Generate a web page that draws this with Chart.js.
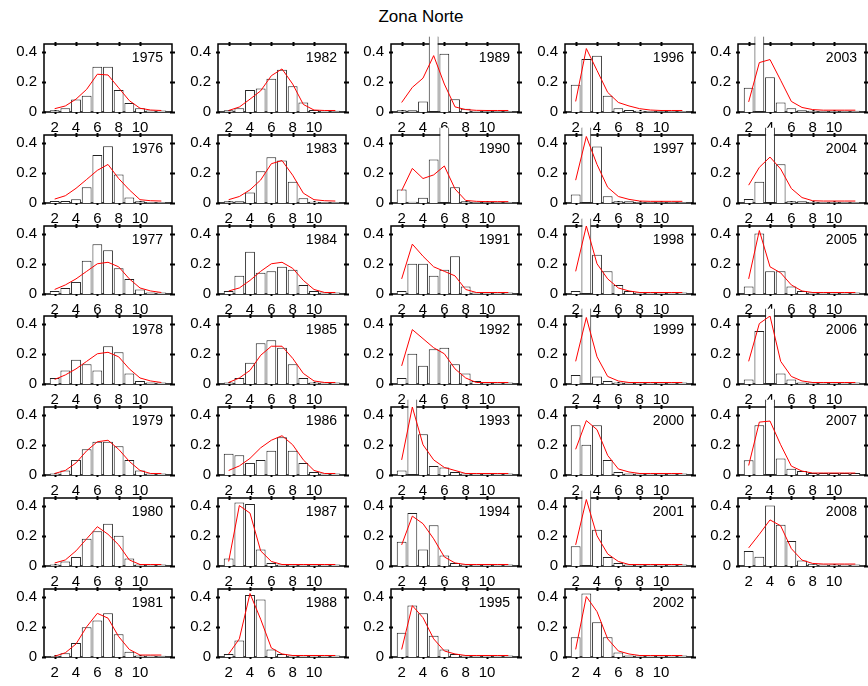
<!DOCTYPE html>
<html>
<head>
<meta charset="utf-8">
<script src="https://cdn.jsdelivr.net/npm/chart.js@4.4.1/dist/chart.umd.min.js"></script>
<style>
  body { margin: 0; background: #fff; width: 868px; height: 686px; overflow: hidden; position: relative; font-family: "Liberation Sans", Arial, sans-serif; }
  #title { position: absolute; top: 7px; left: 321px; width: 200px; text-align: center; font-size: 17px; color: #000; }
  .panel { position: absolute; }
</style>
</head>
<body>
<div id="title">Zona Norte</div>
<div id="panels"></div>
<script>
const ages = [2, 3, 4, 5, 6, 7, 8, 9, 10, 11, 12];
const xTicks = [2, 4, 6, 8, 10];
const yTicks = [0, 0.2, 0.4];

// observed proportions (bars) and model fit (red line) per year
const bars1975 = [0.011, 0.025, 0.083, 0.107, 0.30, 0.30, 0.145, 0.06, 0.025, 0.01, 0.01];
const fit1975  = [0.022, 0.04, 0.085, 0.15, 0.25, 0.245, 0.16, 0.075, 0.025, 0.013, 0.01];
const bars1976 = [0.013, 0.013, 0.024, 0.104, 0.318, 0.375, 0.188, 0.037, 0.011, 0.006, 0.006];
const fit1976  = [0.026, 0.048, 0.097, 0.156, 0.216, 0.255, 0.162, 0.087, 0.022, 0.015, 0.013];
const bars1977 = [0.02, 0.04, 0.08, 0.22, 0.33, 0.29, 0.17, 0.1, 0.03, 0.01, 0.01];
const fit1977  = [0.03, 0.06, 0.1, 0.15, 0.2, 0.21, 0.18, 0.1, 0.04, 0.02, 0.01];
const bars1978 = [0.04, 0.09, 0.16, 0.13, 0.09, 0.25, 0.21, 0.07, 0.02, 0.01, 0.01];
const fit1978  = [0.03, 0.06, 0.1, 0.15, 0.2, 0.21, 0.18, 0.1, 0.04, 0.02, 0.01];
const bars1979 = [0.01, 0.03, 0.1, 0.17, 0.22, 0.22, 0.19, 0.1, 0.03, 0.01, 0.01];
const fit1979  = [0.01, 0.03, 0.08, 0.16, 0.22, 0.23, 0.17, 0.09, 0.03, 0.01, 0.01];
const bars1980 = [0.01, 0.03, 0.06, 0.18, 0.23, 0.28, 0.2, 0.05, 0.01, 0.01, 0.01];
const fit1980  = [0.02, 0.04, 0.1, 0.18, 0.26, 0.21, 0.14, 0.04, 0.01, 0.01, 0.01];
const bars1981 = [0.006, 0.024, 0.092, 0.197, 0.242, 0.289, 0.15, 0.034, 0.01, 0.01, 0.008];
const fit1981  = [0.005, 0.028, 0.086, 0.2, 0.289, 0.257, 0.135, 0.05, 0.013, 0.013, 0.013];
const bars1982 = [0.011, 0.025, 0.145, 0.155, 0.22, 0.28, 0.17, 0.063, 0.013, 0.01, 0.008];
const fit1982  = [0.01, 0.033, 0.085, 0.14, 0.24, 0.285, 0.185, 0.05, 0.013, 0.01, 0.01];
const bars1983 = [0.011, 0.011, 0.07, 0.21, 0.303, 0.281, 0.14, 0.032, 0.009, 0.006, 0.006];
const fit1983  = [0.022, 0.043, 0.087, 0.152, 0.26, 0.281, 0.184, 0.065, 0.022, 0.015, 0.013];
const bars1984 = [0.02, 0.12, 0.28, 0.14, 0.15, 0.18, 0.16, 0.06, 0.02, 0.01, 0.01];
const fit1984  = [0.02, 0.04, 0.09, 0.15, 0.2, 0.21, 0.17, 0.09, 0.03, 0.01, 0.01];
const bars1985 = [0.01, 0.04, 0.14, 0.27, 0.29, 0.24, 0.13, 0.04, 0.01, 0.01, 0.01];
const fit1985  = [0.01, 0.04, 0.09, 0.19, 0.25, 0.25, 0.17, 0.07, 0.02, 0.01, 0.01];
const bars1986 = [0.14, 0.13, 0.08, 0.1, 0.16, 0.25, 0.16, 0.08, 0.02, 0.01, 0.01];
const fit1986  = [0.03, 0.06, 0.11, 0.18, 0.23, 0.26, 0.2, 0.1, 0.03, 0.01, 0.01];
const bars1987 = [0.05, 0.42, 0.41, 0.11, 0.02, 0.01, 0.01, 0.01, 0.01, 0.01, 0.01];
const fit1987  = [0.03, 0.4, 0.35, 0.1, 0.03, 0.01, 0.01, 0.01, 0.01, 0.01, 0.01];
const bars1988 = [0.02, 0.11, 0.41, 0.38, 0.05, 0.02, 0.01, 0.01, 0.01, 0.01, 0.01];
const fit1988  = [0.02, 0.12, 0.42, 0.25, 0.06, 0.02, 0.01, 0.01, 0.01, 0.01, 0.01];
const bars1989 = [0.011, 0.011, 0.07, 0.5, 0.385, 0.085, 0.022, 0.009, 0.007, 0.007, 0.007];
const fit1989  = [0.063, 0.163, 0.224, 0.373, 0.185, 0.034, 0.016, 0.011, 0.01, 0.01, 0.01];
const bars1990 = [0.089, 0.009, 0.035, 0.288, 0.5, 0.104, 0.011, 0.006, 0.006, 0.006, 0.006];
const fit1990  = [0.082, 0.229, 0.162, 0.186, 0.245, 0.093, 0.017, 0.011, 0.009, 0.009, 0.009];
const bars1991 = [0.02, 0.2, 0.2, 0.12, 0.16, 0.25, 0.05, 0.01, 0.01, 0.01, 0.01];
const fit1991  = [0.1, 0.33, 0.25, 0.18, 0.15, 0.12, 0.03, 0.01, 0.01, 0.01, 0.01];
const bars1992 = [0.04, 0.2, 0.12, 0.23, 0.24, 0.13, 0.07, 0.02, 0.01, 0.01, 0.01];
const fit1992  = [0.12, 0.36, 0.3, 0.24, 0.2, 0.1, 0.04, 0.01, 0.01, 0.01, 0.01];
const bars1993 = [0.03, 0.5, 0.27, 0.06, 0.05, 0.02, 0.01, 0.01, 0.01, 0.01, 0.01];
const fit1993  = [0.1, 0.45, 0.2, 0.1, 0.05, 0.03, 0.01, 0.01, 0.01, 0.01, 0.01];
const bars1994 = [0.16, 0.35, 0.11, 0.27, 0.07, 0.02, 0.01, 0.01, 0.01, 0.01, 0.01];
const fit1994  = [0.14, 0.33, 0.28, 0.18, 0.06, 0.02, 0.01, 0.01, 0.01, 0.01, 0.01];
const bars1995 = [0.16, 0.34, 0.29, 0.14, 0.05, 0.02, 0.01, 0.01, 0.01, 0.01, 0.01];
const fit1995  = [0.05, 0.34, 0.26, 0.12, 0.04, 0.02, 0.01, 0.01, 0.01, 0.01, 0.01];
const bars1996 = [0.18, 0.35, 0.373, 0.107, 0.025, 0.013, 0.009, 0.006, 0.006, 0.006, 0.006];
const fit1996  = [0.07, 0.42, 0.275, 0.13, 0.063, 0.04, 0.022, 0.013, 0.01, 0.01, 0.01];
const bars1997 = [0.056, 0.5, 0.374, 0.045, 0.011, 0.011, 0.005, 0.005, 0.005, 0.005, 0.005];
const fit1997  = [0.151, 0.44, 0.255, 0.104, 0.043, 0.024, 0.013, 0.011, 0.011, 0.011, 0.011];
const bars1998 = [0.02, 0.5, 0.26, 0.15, 0.06, 0.02, 0.01, 0.01, 0.01, 0.01, 0.01];
const fit1998  = [0.15, 0.45, 0.2, 0.1, 0.04, 0.02, 0.01, 0.01, 0.01, 0.01, 0.01];
const bars1999 = [0.06, 0.5, 0.05, 0.02, 0.01, 0.01, 0.01, 0.01, 0.01, 0.01, 0.01];
const fit1999  = [0.15, 0.44, 0.18, 0.05, 0.02, 0.01, 0.01, 0.01, 0.01, 0.01, 0.01];
const bars2000 = [0.33, 0.2, 0.33, 0.1, 0.02, 0.01, 0.01, 0.01, 0.01, 0.01, 0.01];
const fit2000  = [0.17, 0.36, 0.3, 0.13, 0.04, 0.02, 0.01, 0.01, 0.01, 0.01, 0.01];
const bars2001 = [0.13, 0.5, 0.24, 0.06, 0.02, 0.01, 0.01, 0.01, 0.01, 0.01, 0.01];
const fit2001  = [0.14, 0.44, 0.2, 0.08, 0.03, 0.01, 0.01, 0.01, 0.01, 0.01, 0.01];
const bars2002 = [0.13, 0.42, 0.23, 0.13, 0.03, 0.01, 0.01, 0.01, 0.01, 0.01, 0.01];
const fit2002  = [0.05, 0.4, 0.3, 0.12, 0.04, 0.02, 0.01, 0.01, 0.01, 0.01, 0.01];
const bars2003 = [0.16, 0.5, 0.23, 0.063, 0.025, 0.011, 0.008, 0.008, 0.008, 0.008, 0.008];
const fit2003  = [0.067, 0.327, 0.347, 0.21, 0.07, 0.03, 0.016, 0.012, 0.012, 0.012, 0.012];
const bars2004 = [0.026, 0.14, 0.5, 0.257, 0.011, 0.011, 0.006, 0.006, 0.006, 0.006, 0.006];
const fit2004  = [0.118, 0.236, 0.304, 0.225, 0.096, 0.036, 0.015, 0.013, 0.013, 0.013, 0.013];
const bars2005 = [0.05, 0.4, 0.15, 0.15, 0.05, 0.02, 0.01, 0.01, 0.01, 0.01, 0.01];
const fit2005  = [0.1, 0.42, 0.18, 0.14, 0.06, 0.02, 0.01, 0.01, 0.01, 0.01, 0.01];
const bars2006 = [0.03, 0.35, 0.5, 0.07, 0.03, 0.01, 0.01, 0.01, 0.01, 0.01, 0.01];
const fit2006  = [0.15, 0.4, 0.45, 0.15, 0.05, 0.02, 0.01, 0.01, 0.01, 0.01, 0.01];
const bars2007 = [0.098, 0.33, 0.5, 0.109, 0.041, 0.026, 0.013, 0.013, 0.013, 0.013, 0.013];
const fit2007  = [0.063, 0.35, 0.357, 0.2, 0.059, 0.026, 0.013, 0.013, 0.013, 0.013, 0.013];
const bars2008 = [0.1, 0.061, 0.4, 0.273, 0.165, 0.037, 0.015, 0.01, 0.01, 0.01, 0.01];
const fit2008  = [0.12, 0.21, 0.305, 0.266, 0.115, 0.039, 0.017, 0.013, 0.013, 0.013, 0.013];

const panels = [
  [1975, bars1975, fit1975], [1976, bars1976, fit1976], [1977, bars1977, fit1977], [1978, bars1978, fit1978],
  [1979, bars1979, fit1979], [1980, bars1980, fit1980], [1981, bars1981, fit1981],
  [1982, bars1982, fit1982], [1983, bars1983, fit1983], [1984, bars1984, fit1984], [1985, bars1985, fit1985],
  [1986, bars1986, fit1986], [1987, bars1987, fit1987], [1988, bars1988, fit1988],
  [1989, bars1989, fit1989], [1990, bars1990, fit1990], [1991, bars1991, fit1991], [1992, bars1992, fit1992],
  [1993, bars1993, fit1993], [1994, bars1994, fit1994], [1995, bars1995, fit1995],
  [1996, bars1996, fit1996], [1997, bars1997, fit1997], [1998, bars1998, fit1998], [1999, bars1999, fit1999],
  [2000, bars2000, fit2000], [2001, bars2001, fit2001], [2002, bars2002, fit2002],
  [2003, bars2003, fit2003], [2004, bars2004, fit2004], [2005, bars2005, fit2005], [2006, bars2006, fit2006],
  [2007, bars2007, fit2007], [2008, bars2008, fit2008]
];

const yMax = 0.45;

// panel geometry (plot area)
const plotW = 128, plotH = 68;
const padTop = 40, axisW = 42, axisH = 28, padRight = 12;

const framePlugin = {
  id: 'frame',
  beforeDatasetsDraw(chart) {
    const { ctx, chartArea: a, scales: { x, y } } = chart;
    ctx.save();
    ctx.strokeStyle = '#000';
    ctx.lineWidth = 1.5;
    ctx.strokeRect(a.left, a.top, a.width, a.height);
    // small tick marks straddling the box, like the original figure
    ctx.lineWidth = 2;
    ctx.beginPath();
    xTicks.forEach(v => {
      const px = Math.round(x.getPixelForValue(v)) + 0.5;
      ctx.moveTo(px, a.top - 2); ctx.lineTo(px, a.top + 2);
      ctx.moveTo(px, a.bottom + 2); ctx.lineTo(px, a.bottom - 2);
    });
    yTicks.forEach(v => {
      const py = Math.round(y.getPixelForValue(v)) + 0.5;
      ctx.moveTo(a.left - 2, py); ctx.lineTo(a.left + 2, py);
      ctx.moveTo(a.right + 3, py); ctx.lineTo(a.right - 2, py);
    });
    ctx.stroke();
    ctx.restore();
  },
  afterDatasetsDraw(chart, args, opts) {
    const { ctx, chartArea: a } = chart;
    ctx.save();
    ctx.fillStyle = '#000';
    ctx.font = '14px "Liberation Sans", Arial, sans-serif';
    ctx.textAlign = 'right';
    ctx.textBaseline = 'alphabetic';
    ctx.fillText(opts.year, a.right - 9, a.top + 18);
    ctx.restore();
  }
};

const holder = document.getElementById('panels');

panels.forEach(([year, bars, fit], i) => {
  const col = Math.floor(i / 7), row = i % 7;
  const left = Math.round(44 + 173.5 * col);
  const top = Math.round(44 + 90.8 * row);
  const div = document.createElement('div');
  div.className = 'panel';
  div.style.left = (left - axisW) + 'px';
  div.style.top = (top - padTop) + 'px';
  const canvas = document.createElement('canvas');
  canvas.width = axisW + plotW + padRight;
  canvas.height = padTop + plotH + axisH;
  div.appendChild(canvas);
  holder.appendChild(div);

  new Chart(canvas, {
    type: 'bar',
    data: {
      datasets: [
        {
          type: 'line',
          data: ages.map((a, k) => ({ x: a, y: fit[k] })),
          borderColor: '#ff0000',
          borderWidth: 1,
          pointRadius: 0,
          tension: 0,
          order: 0
        },
        {
          type: 'bar',
          data: ages.map((a, k) => ({ x: a, y: bars[k] })),
          backgroundColor: '#ffffff',
          borderColor: '#222',
          borderWidth: 1,
          borderSkipped: c => (c.raw && c.raw.y > yMax ? 'top' : 'start'),
          barPercentage: 0.92,
          categoryPercentage: 1,
          clip: false,
          order: 1
        }
      ]
    },
    options: {
      responsive: false,
      animation: false,
      layout: { padding: { top: padTop, right: padRight, left: 0, bottom: 0 } },
      plugins: { legend: { display: false }, tooltip: { enabled: false }, frame: { year: String(year) } },
      scales: {
        x: {
          type: 'linear',
          offset: false,
          min: 1,
          max: 13,
          afterBuildTicks: s => { s.ticks = xTicks.map(v => ({ value: v })); },
          afterFit: s => { s.height = axisH; },
          grid: { display: false, drawTicks: false, offset: false },
          border: { display: false },
          ticks: { color: '#000', font: { size: 15, family: '"Liberation Sans", Arial' }, padding: 7, maxRotation: 0, autoSkip: false, callback: v => String(v) }
        },
        y: {
          min: 0,
          max: yMax,
          afterBuildTicks: s => { s.ticks = yTicks.map(v => ({ value: v })); },
          afterFit: s => { s.width = axisW; },
          grid: { display: false, drawTicks: false },
          border: { display: false },
          ticks: { color: '#000', font: { size: 15, family: '"Liberation Sans", Arial' }, padding: 7, callback: v => v === 0 ? '0' : v.toFixed(1) }
        }
      }
    },
    plugins: [framePlugin]
  });
});
</script>
</body>
</html>
